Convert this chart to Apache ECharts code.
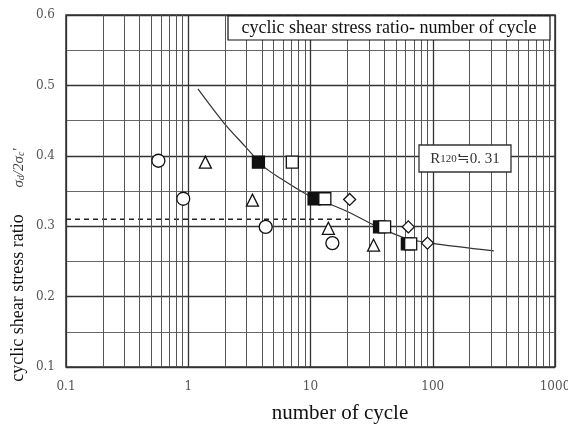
<!DOCTYPE html>
<html>
<head>
<meta charset="utf-8">
<script src="https://cdn.jsdelivr.net/npm/echarts@6/dist/echarts.min.js"></script>
<style>html,body{margin:0;padding:0;background:#fff;}#c{width:568px;height:428px;}</style>
</head>
<body>
<div id="c"></div>
<script>
// ---- data ----
const xTickLabels = ['0.1', '1', '10', '100', '1000'];
const yTickLabels = ['0.1', '0.2', '0.3', '0.4', '0.5', '0.6'];
const minorXGrid = [0.2,0.3,0.4,0.5,0.6,0.7,0.8,0.9,2,3,4,5,6,7,8,9,20,30,40,50,60,70,80,90,200,300,400,500,600,700,800,900];
const circles = [[0.57,0.393],[0.91,0.339],[4.3,0.299],[15.1,0.276]];
const triangles = [[1.38,0.391],[3.35,0.337],[14.0,0.297],[32.8,0.273]];
const filledSquares = [[3.75,0.391],[10.7,0.339],[36.7,0.299],[62,0.275]];
const openSquares = [[7.1,0.391],[13.1,0.339],[40.4,0.299],[66,0.275]];
const diamonds = [[20.9,0.338],[63.1,0.299],[90.5,0.276]];
const fitCurve = [[1.2,0.495],[1.93,0.448],[2.93,0.413],[4.12,0.385],[5.67,0.368],[9.6,0.344],[19.4,0.322],[32.8,0.302],[57.6,0.284],[96,0.276],[316,0.265]];
const dashedRef = [[0.1,0.31],[21,0.31]];
const titleText = 'cyclic shear stress ratio- number of cycle';
const xName = 'number of cycle';
const yName = 'cyclic shear stress ratio';

const chart = echarts.init(document.getElementById('c'), null, {renderer: 'canvas'});
const mk = {color: '#fff', borderColor: '#111', borderWidth: 1.3, opacity: 1};
const option = {
  backgroundColor: '#fff',
  animation: false,
  grid: {left: 66, right: 13, top: 15, bottom: 61, show: true, borderColor: '#333', borderWidth: 1.5, backgroundColor: 'transparent', containLabel: false, outerBoundsMode: 'none'},
  xAxis: {
    type: 'log', logBase: 10, min: 0.1, max: 1000,
    axisLine: {show: false}, axisTick: {show: false},
    splitLine: {show: true, lineStyle: {color: '#333', width: 1.3}},
    axisLabel: {margin: 14, color: '#555', fontFamily: 'DejaVu Serif', fontSize: 12, hideOverlap: false,
      formatter: v => { const s = xTickLabels.find(t => Math.abs(parseFloat(t) - v) < 1e-6 * Math.max(1, v)); return s || ''; }}
  },
  yAxis: {
    type: 'value', min: 0.1, max: 0.6, interval: 0.1,
    axisLine: {show: false}, axisTick: {show: false},
    splitLine: {show: true, lineStyle: {color: '#333', width: 1.3}},
    minorTick: {show: false, splitNumber: 2},
    minorSplitLine: {show: true, lineStyle: {color: '#666', width: 1}},
    axisLabel: {margin: 11, color: '#555', fontFamily: 'DejaVu Serif', fontSize: 12,
      formatter: v => { const s = yTickLabels.find(t => Math.abs(parseFloat(t) - v) < 1e-6); return s || ''; }}
  },
  series: [
    {type: 'line', data: [], silent: true,
     markLine: {silent: true, symbol: ['none','none'], label: {show: false},
       lineStyle: {type: 'solid', color: '#555', width: 1},
       data: minorXGrid.map(v => ({xAxis: v}))}, z: 1},
    {type: 'line', data: dashedRef, symbol: 'none', lineStyle: {color: '#222', width: 1.5, type: [5, 4]}, z: 3},
    {type: 'line', data: fitCurve, smooth: 0.3, symbol: 'none', lineStyle: {color: '#333', width: 1.2}, z: 3},
    {type: 'scatter', data: circles, symbol: 'circle', symbolSize: 13, itemStyle: mk, z: 5},
    {type: 'scatter', data: triangles, symbol: 'triangle', symbolSize: 12, itemStyle: mk, z: 5},
    {type: 'scatter', data: filledSquares, symbol: 'rect', symbolSize: 12, itemStyle: {color: '#111', borderColor: '#111', borderWidth: 1.3, opacity: 1}, z: 5},
    {type: 'scatter', data: openSquares, symbol: 'rect', symbolSize: 12, itemStyle: mk, z: 6},
    {type: 'scatter', data: diamonds, symbol: 'diamond', symbolSize: 12, itemStyle: mk, z: 5}
  ],
  graphic: [
    {type: 'rect', shape: {x: 228, y: 16, width: 322, height: 24}, style: {fill: '#fff', stroke: '#111', lineWidth: 1.2}, z: 100},
    {type: 'text', x: 389, y: 28, style: {text: titleText, fill: '#111', font: '18px "Liberation Serif"', align: 'center', verticalAlign: 'middle'}, z: 101},
    {type: 'rect', shape: {x: 419, y: 145, width: 92, height: 27}, style: {fill: '#fff', stroke: '#333', lineWidth: 1.3}, z: 100},
    {type: 'text', x: 465, y: 159, style: {
      text: '{r|R}{s|120}{r|≒0. 31}', align: 'center', verticalAlign: 'middle',
      rich: {r: {fontSize: 15, fontFamily: 'Liberation Serif', fill: '#333'}, s: {fontSize: 11, fontFamily: 'Liberation Serif', fill: '#333'}}
    }, z: 101},
    {type: 'text', x: 18, y: 298, rotation: Math.PI / 2, style: {text: yName, fill: '#111', font: '18px "Liberation Serif"', align: 'center', verticalAlign: 'middle'}},
    {type: 'text', x: 19, y: 168, rotation: Math.PI / 2, style: {
      text: '{a|σ}{b|d}{a|/2σ}{b|c}{a|\'}', align: 'center', verticalAlign: 'middle',
      rich: {a: {fontSize: 15, fontStyle: 'italic', fontFamily: 'Liberation Serif', fill: '#444'}, b: {fontSize: 10, fontStyle: 'italic', fontFamily: 'Liberation Serif', fill: '#444', verticalAlign: 'bottom'}}
    }},
    {type: 'text', x: 340, y: 413, style: {text: xName, fill: '#111', font: '21px "Liberation Serif"', align: 'center', verticalAlign: 'middle'}}
  ]
};
chart.setOption(option);
</script>
</body>
</html>
